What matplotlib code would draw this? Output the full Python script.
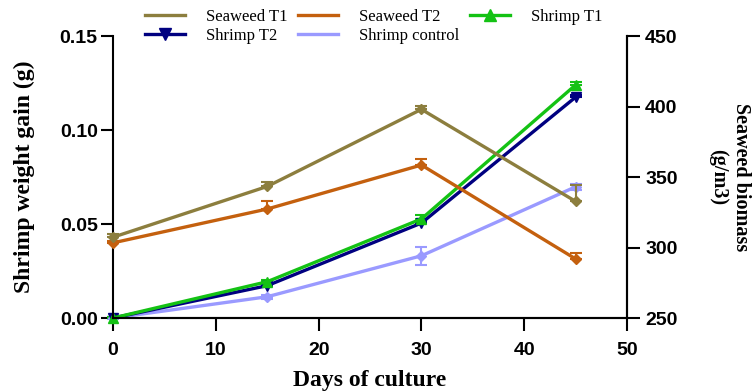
import numpy as np
import matplotlib
matplotlib.use("Agg")
import matplotlib.pyplot as plt
from matplotlib.lines import Line2D

# days of culture
days = [0, 15, 30, 45]

# shrimp weight gain (g), left axis
shrimp_t1 = [0.000, 0.0193, 0.0527, 0.124]
shrimp_t1_err = [0.0005, 0.0010, 0.0020, 0.0018]
shrimp_t2 = [0.000, 0.0172, 0.0505, 0.1175]
shrimp_t2_err = [0.0005, 0.0008, 0.0010, 0.0010]
shrimp_ctrl = [0.000, 0.0113, 0.0331, 0.0698]
shrimp_ctrl_err = [0.0003, 0.0010, 0.0048, 0.0015]

# seaweed biomass (g/m3), right axis
seaweed_t1 = [307.3, 343.3, 398.0, 332.7]
seaweed_t1_err = [2.1, 3.0, 2.6, 11.8]
seaweed_t2 = [303.3, 327.3, 358.5, 291.9]
seaweed_t2_err = [1.0, 5.4, 4.0, 4.3]

c_sw1 = '#8c7e3e'
c_sw2 = '#c4600e'
c_sh1 = '#14c214'
c_sh2 = '#000080'
c_ctl = '#9a9aff'

tick_font = {'family': 'Liberation Sans', 'weight': 'bold', 'size': 14}
lab_font = {'family': 'Liberation Serif', 'weight': 'bold'}

fig = plt.figure(figsize=(7.55, 3.91), dpi=100)
ax = fig.add_axes([0.1497, 0.1867, 0.6808, 0.7212])
ax2 = ax.twinx()

lw = 2.4
zero = [0, 0, 0, 0]
ax.errorbar(days, shrimp_ctrl, yerr=shrimp_ctrl_err, color=c_ctl, lw=lw,
            marker='D', ms=5, capsize=4, elinewidth=1.5, capthick=1.5)
ax.errorbar(days, shrimp_t2, yerr=[zero, shrimp_t2_err], color=c_sh2, lw=lw,
            marker='v', ms=7, capsize=4, elinewidth=1.5, capthick=1.5)
ax.errorbar(days, shrimp_t1, yerr=[zero, shrimp_t1_err], color=c_sh1, lw=lw,
            marker='^', ms=7, capsize=4, elinewidth=1.5, capthick=1.5)
ax2.errorbar(days, seaweed_t2, yerr=[zero, seaweed_t2_err], color=c_sw2, lw=lw,
             marker='D', ms=5, capsize=4, elinewidth=1.5, capthick=1.5)
ax2.errorbar(days, seaweed_t1, yerr=[zero, seaweed_t1_err], color=c_sw1, lw=lw,
             marker='D', ms=5, capsize=4, elinewidth=1.5, capthick=1.5)

ax.set_xlim(0, 50)
ax.set_ylim(0, 0.15)
ax2.set_ylim(250, 450)
ax.set_xticks(np.arange(0, 51, 10))
ax.set_yticks([0, 0.05, 0.10, 0.15])
ax.set_yticklabels(['0.00', '0.05', '0.10', '0.15'])
ax2.set_yticks(np.arange(250, 451, 50))

for a in (ax, ax2):
    a.spines['top'].set_visible(False)
    for s in a.spines.values():
        s.set_linewidth(1.5)
    a.tick_params(direction='out', length=9, width=1.5)
    for t in a.get_xticklabels() + a.get_yticklabels():
        t.set_fontproperties(tick_font)
ax.tick_params(axis='x', pad=8)
ax.tick_params(axis='y', pad=2)
ax2.tick_params(axis='y', pad=4)
ax2.spines['left'].set_visible(False)
for a in (ax, ax2):
    for art in a.lines + a.collections:
        art.set_clip_on(False)

ax.set_xlabel('Days of culture', fontdict=lab_font, fontsize=17, labelpad=8)
ax.set_ylabel('Shrimp weight gain (g)', fontdict=lab_font, fontsize=17, labelpad=18)
ax2.set_ylabel('Seaweed biomass\n(g/m3)', fontdict=lab_font, fontsize=14.5,
               rotation=270, labelpad=53, linespacing=1.2)

handles = [
    Line2D([], [], color=c_sw1, lw=lw),
    Line2D([], [], color=c_sh2, lw=lw, marker='v', ms=8),
    Line2D([], [], color=c_sw2, lw=lw),
    Line2D([], [], color=c_ctl, lw=lw),
    Line2D([], [], color=c_sh1, lw=lw, marker='^', ms=8),
]
labels = ['Seaweed T1', 'Shrimp T2', 'Seaweed T2', 'Shrimp control', 'Shrimp T1']
fig.legend(handles, labels, loc='upper center', bbox_to_anchor=(0.495, 1.015),
           ncol=3, frameon=False, prop={'family': 'Liberation Serif', 'size': 12},
           handlelength=2.4, handletextpad=1.3, columnspacing=0.6, labelspacing=0.15)

fig.savefig('out.png', dpi=100)
